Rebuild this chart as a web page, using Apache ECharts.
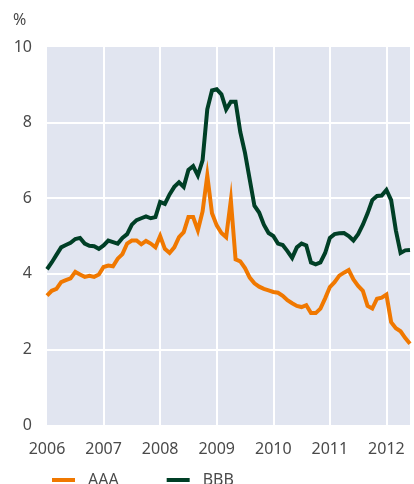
<!DOCTYPE html>
<html>
<head>
<meta charset="utf-8">
<script src="https://cdn.jsdelivr.net/npm/echarts@6/dist/echarts.min.js"></script>
<style>
  html, body { margin: 0; padding: 0; background: #fff; }
  #chart { width: 414px; height: 484px; }
</style>
</head>
<body>
<div id="chart"></div>
<script>
// monthly yields, Jan 2006 - Jun 2012 (%)
var startYear = 2006;
var yearTicks = [2006, 2007, 2008, 2009, 2010, 2011, 2012];
var aaa = [
  3.42, 3.55, 3.6, 3.78, 3.83, 3.88, 4.05, 3.98, 3.92, 3.95, 3.92, 3.98,
  4.18, 4.22, 4.2, 4.4, 4.52, 4.8, 4.88, 4.88, 4.78, 4.87, 4.8, 4.7,
  5.0, 4.66, 4.55, 4.7, 4.97, 5.1, 5.5, 5.5, 5.15, 5.65, 6.6, 5.6,
  5.28, 5.08, 4.97, 5.95, 4.38, 4.33, 4.15, 3.9, 3.75, 3.66, 3.6, 3.56,
  3.52, 3.5, 3.42, 3.3, 3.22, 3.15, 3.12, 3.17, 2.96, 2.96, 3.08, 3.35,
  3.65, 3.78, 3.95, 4.03, 4.1, 3.85, 3.68, 3.55, 3.15, 3.08, 3.34, 3.37,
  3.45, 2.72, 2.56, 2.48, 2.3, 2.15
];
var bbb = [
  4.12, 4.3, 4.5, 4.7, 4.76, 4.82, 4.92, 4.95, 4.8, 4.74, 4.73, 4.66,
  4.75, 4.88, 4.84, 4.8, 4.95, 5.05, 5.3, 5.42, 5.47, 5.52, 5.47, 5.5,
  5.9, 5.85, 6.1, 6.3, 6.42, 6.3, 6.75, 6.85, 6.6, 7.0, 8.35, 8.85,
  8.88, 8.75, 8.35, 8.55, 8.55, 7.75, 7.2, 6.5, 5.8, 5.62, 5.3, 5.08,
  5.0, 4.8, 4.76, 4.6, 4.42, 4.7, 4.8, 4.75, 4.3, 4.25, 4.3, 4.55,
  4.95, 5.05, 5.07, 5.08, 5.0, 4.88, 5.05, 5.3, 5.6, 5.95, 6.06, 6.07,
  6.22, 5.95, 5.15, 4.55, 4.62, 4.63
];

function toPairs(arr) {
  return arr.map(function (v, i) { return [startYear + i / 12, v]; });
}

var textColor = '#4a4a4a';
var font = 'Noto Sans';

var myChart = echarts.init(document.getElementById('chart'));
myChart.setOption({
  animation: false,
  title: {
    text: '%',
    left: 8,
    top: 7,
    textStyle: { color: textColor, fontFamily: font, fontSize: 16, fontWeight: 'normal' }
  },
  grid: {
    left: 47, right: 4, top: 47, bottom: 59,
    show: true,
    backgroundColor: '#e1e5f0',
    borderWidth: 0
  },
  legend: {
    left: 47,
    top: 467,
    icon: 'rect',
    itemWidth: 23,
    itemHeight: 4,
    itemGap: 48,
    textStyle: { color: textColor, fontFamily: font, fontSize: 16, padding: [0, 0, 0, 8] },
    data: ['AAA', 'BBB']
  },
  xAxis: {
    type: 'value',
    min: startYear,
    max: startYear + (aaa.length - 1) / 12,
    interval: 1,
    axisLine: { show: false },
    axisTick: { show: false },
    axisLabel: {
      color: textColor, fontFamily: font, fontSize: 16, margin: 16,
      showMaxLabel: false,
      formatter: function (v) { return yearTicks.indexOf(v) >= 0 ? String(v) : ''; }
    },
    splitLine: { show: true, showMinLine: false, showMaxLine: false, lineStyle: { color: '#fff', width: 2 } }
  },
  yAxis: {
    type: 'value',
    min: 0,
    max: 10,
    interval: 2,
    axisLine: { show: false },
    axisTick: { show: false },
    axisLabel: { color: textColor, fontFamily: font, fontSize: 16, margin: 15 },
    splitLine: { show: true, showMinLine: false, showMaxLine: false, lineStyle: { color: '#fff', width: 2 } }
  },
  series: [
    {
      name: 'AAA',
      type: 'line',
      data: toPairs(aaa),
      symbol: 'none',
      color: '#f07800',
      lineStyle: { width: 4, join: 'miter' }
    },
    {
      name: 'BBB',
      type: 'line',
      data: toPairs(bbb),
      symbol: 'none',
      color: '#003f26',
      lineStyle: { width: 4, join: 'miter' }
    }
  ]
});
</script>
</body>
</html>
